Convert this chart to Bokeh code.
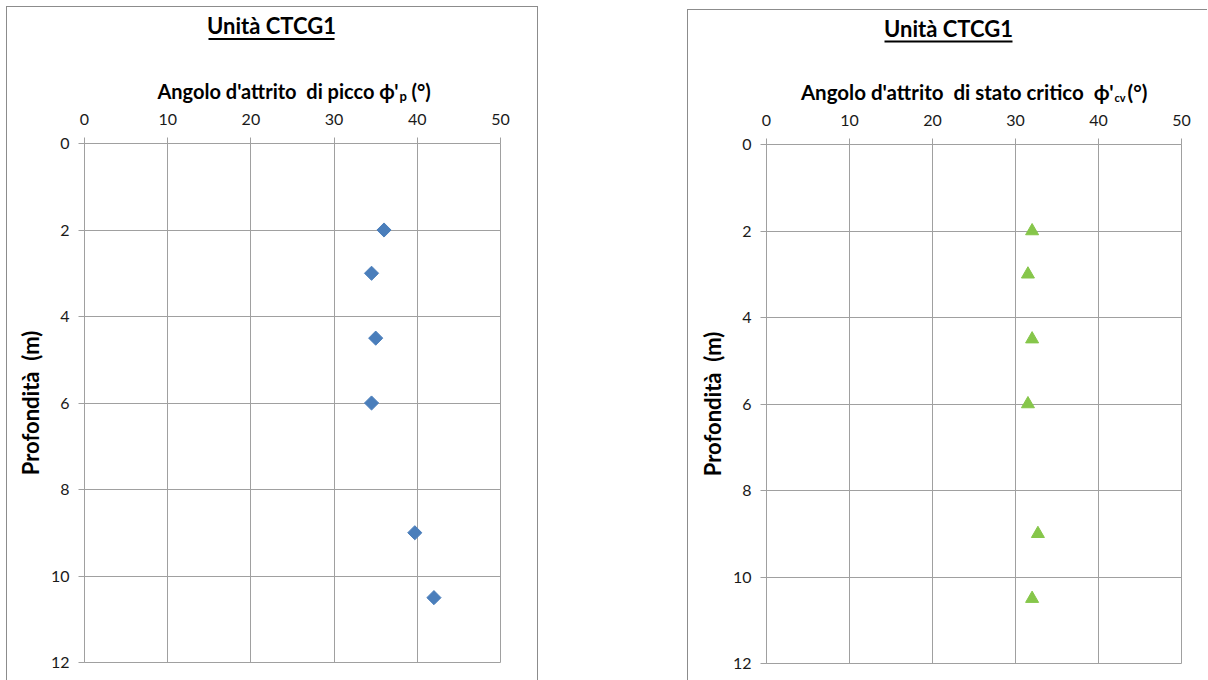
from bokeh.plotting import figure
from bokeh.layouts import row, column
from bokeh.models import Range1d, FixedTicker
from bokeh.core.properties import value
from bokeh.embed import file_html
from bokeh.resources import INLINE

# Depth of each test (m)
depth = [2, 3, 4.5, 6, 9, 10.5]
# Peak friction angle (deg)
phi_peak = [36, 34.5, 35, 34.5, 39.7, 42]
# Critical state friction angle (deg)
phi_cv = [32, 31.5, 32, 31.5, 32.7, 32]

x_ticks = [0, 10, 20, 30, 40, 50]
y_ticks = [0, 2, 4, 6, 8, 10, 12]

unit_title = "Unità CTCG1"
y_title = "Profondità\u00a0 (m)"

FONT = "Lato"
GRID = "#a0a0a0"
FRAME = "#8c8c8c"


def make_header(width, height, border_left, frame_w, title_cx, title_base, ul_half, ul_y,
                main_txt, main_right, base_y, sub_txt, sub_left, sub_base, sub_size, deg_left,
                label_size):
    """Header strip above a panel: underlined unit title and the x-axis title.
    Its frame lines up with the panel frame below; x and y are pixels from the
    frame's left edge and from the strip's top."""
    h = figure(width=width, height=height, frame_width=frame_w, frame_height=height,
               x_range=Range1d(0, frame_w), y_range=Range1d(height, 0),
               x_axis_location=None, y_axis_location=None, output_backend="svg",
               toolbar_location=None, min_border=0, min_border_left=border_left,
               min_border_right=width - border_left - frame_w,
               min_border_top=0, min_border_bottom=0)
    h.outline_line_color = None
    h.xgrid.visible = False
    h.ygrid.visible = False
    h.text(x=[title_cx], y=[title_base], text=[unit_title], text_align="center",
           text_baseline="alphabetic", text_font=value(FONT), text_font_style="bold",
           text_font_size="22px", text_color="#000000")
    h.segment(x0=[title_cx - ul_half], y0=[ul_y], x1=[title_cx + ul_half], y1=[ul_y],
              line_color="#000000", line_width=2)
    h.text(x=[main_right], y=[base_y], text=[main_txt], text_align="right",
           text_baseline="alphabetic", text_font=value(FONT), text_font_style="bold",
           text_font_size=label_size, text_color="#000000")
    h.text(x=[sub_left], y=[sub_base], text=[sub_txt], text_align="left",
           text_baseline="alphabetic", text_font=value(FONT), text_font_style="bold",
           text_font_size=sub_size, text_color="#000000")
    h.text(x=[deg_left], y=[base_y], text=["(°)"], text_align="left",
           text_baseline="alphabetic", text_font=value(FONT), text_font_style="bold",
           text_font_size=label_size, text_color="#000000")
    return h


def make_panel(width, height, border_left, border_top, frame_w, frame_h):
    p = figure(width=width, height=height, frame_width=frame_w, frame_height=frame_h,
               x_range=Range1d(0, 50), y_range=Range1d(12, 0),
               x_axis_location="above", output_backend="svg", toolbar_location=None,
               min_border_left=border_left, min_border_top=border_top,
               min_border_right=width - border_left - frame_w,
               min_border_bottom=height - border_top - frame_h)
    p.outline_line_color = GRID
    p.background_fill_color = "white"
    p.border_fill_color = "white"
    for ax in (p.xaxis[0], p.yaxis[0]):
        ax.axis_line_color = GRID
        ax.major_tick_line_color = GRID
        ax.minor_tick_line_color = None
        ax.major_tick_in = 0
        ax.major_label_text_font = FONT
        ax.major_label_text_font_size = "16px"
        ax.major_label_text_color = "#1a1a1a"
    p.xaxis.ticker = FixedTicker(ticks=x_ticks)
    p.yaxis.ticker = FixedTicker(ticks=y_ticks)
    p.xaxis.major_tick_out = 6
    p.xaxis.major_label_standoff = 13
    p.yaxis.major_tick_out = 6
    p.yaxis.major_label_standoff = 9
    p.yaxis.axis_label = y_title
    p.yaxis.axis_label_text_font = FONT
    p.yaxis.axis_label_text_font_style = "bold"
    p.yaxis.axis_label_text_font_size = "22px"
    p.yaxis.axis_label_text_color = "#000000"
    p.yaxis.axis_label_standoff = 4
    p.xgrid.ticker = FixedTicker(ticks=x_ticks)
    p.ygrid.ticker = FixedTicker(ticks=y_ticks)
    p.xgrid.grid_line_color = GRID
    p.ygrid.grid_line_color = GRID
    return p


# Left panel: peak friction angle
h1 = make_header(530, 98, 77, 416, 187, 18, 63, 31.5,
                 "Angolo d'attrito\u00a0 di picco ϕ'", 314, 83, "p", 315, 88, "13px", 327,
                 "20px")
p1 = make_panel(530, 575, 77, 38, 416, 519)
p1.scatter(phi_peak, depth, marker="square", angle=0.785398, size=10,
           fill_color="#4a7ebb", line_color="#4a7ebb")
left = column(h1, p1, spacing=0, margin=(6, 0, 0, 6),
              styles={"border-top": "1px solid %s" % FRAME,
                      "border-left": "1px solid %s" % FRAME,
                      "border-right": "1px solid %s" % FRAME})

# Right panel: critical state friction angle
h2 = make_header(519, 95, 78, 415, 182, 18, 64, 31,
                 "Angolo d'attrito\u00a0 di stato critico\u00a0 ϕ'", 347, 81, "cv", 348, 87,
                 "11px", 361, "20.5px")
p2 = make_panel(519, 575, 78, 39, 415, 519)
p2.scatter(phi_cv, depth, marker="triangle", size=13,
           fill_color="#86c64a", line_color="#86c64a")
right = column(h2, p2, spacing=0, margin=(9, 0, 0, 149),
               styles={"border-top": "1px solid %s" % FRAME,
                       "border-left": "1px solid %s" % FRAME})

layout = row(left, right, spacing=0)
open("out.html", "w").write(file_html(layout, INLINE))
